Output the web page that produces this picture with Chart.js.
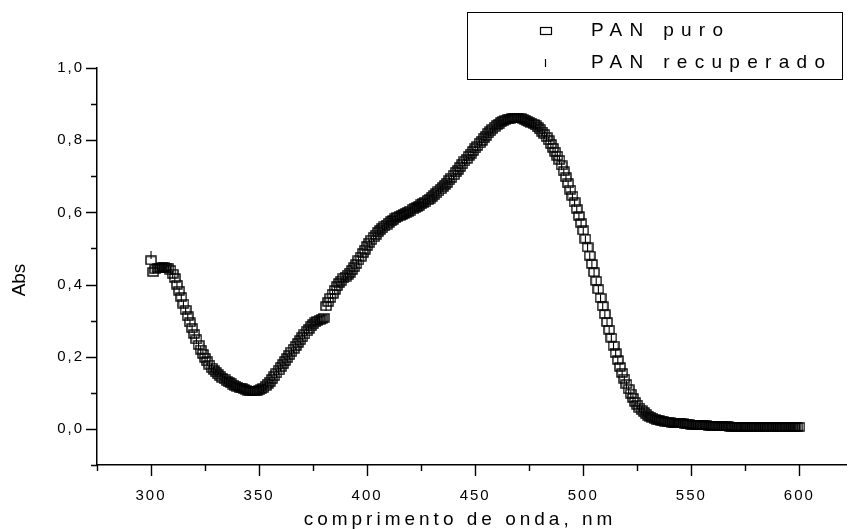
<!DOCTYPE html>
<html>
<head>
<meta charset="utf-8">
<script src="https://cdn.jsdelivr.net/npm/chart.js@4.4.0/dist/chart.umd.min.js"></script>
<style>
html,body{margin:0;padding:0;background:#fff;}
#wrap{position:relative;width:852px;height:529px;}
</style>
</head>
<body>
<div id="wrap"><canvas id="c" width="852" height="529"></canvas></div>
<script>
// ---------- data ----------
const wavelengths = [
300,301,302,303,304,305,306,307,308,309,
310,311,312,313,314,315,316,317,318,319,
320,321,322,323,324,325,326,327,328,329,
330,331,332,333,334,335,336,337,338,339,
340,341,342,343,344,345,346,347,348,349,
350,351,352,353,354,355,356,357,358,359,
360,361,362,363,364,365,366,367,368,369,
370,371,372,373,374,375,376,377,378,379,
380,381,382,383,384,385,386,387,388,389,
390,391,392,393,394,395,396,397,398,399,
400,401,402,403,404,405,406,407,408,409,
410,411,412,413,414,415,416,417,418,419,
420,421,422,423,424,425,426,427,428,429,
430,431,432,433,434,435,436,437,438,439,
440,441,442,443,444,445,446,447,448,449,
450,451,452,453,454,455,456,457,458,459,
460,461,462,463,464,465,466,467,468,469,
470,471,472,473,474,475,476,477,478,479,
480,481,482,483,484,485,486,487,488,489,
490,491,492,493,494,495,496,497,498,499,
500,501,502,503,504,505,506,507,508,509,
510,511,512,513,514,515,516,517,518,519,
520,521,522,523,524,525,526,527,528,529,
530,531,532,533,534,535,536,537,538,539,
540,541,542,543,544,545,546,547,548,549,
550,551,552,553,554,555,556,557,558,559,
560,561,562,563,564,565,566,567,568,569,
570,571,572,573,574,575,576,577,578,579,
580,581,582,583,584,585,586,587,588,589,
590,591,592,593,594,595,596,597,598,599,
600];

const absPuro = [
0.467,0.435,0.442,0.445,0.447,0.448,0.448,0.447,0.445,0.440,
0.430,0.418,0.400,0.383,0.365,0.347,0.330,0.312,0.295,0.279,
0.263,0.248,0.233,0.220,0.208,0.197,0.187,0.178,0.170,0.163,
0.157,0.151,0.146,0.141,0.137,0.133,0.129,0.126,0.123,0.120,
0.117,0.114,0.112,0.110,0.108,0.106,0.105,0.104,0.104,0.105,
0.107,0.110,0.114,0.119,0.125,0.131,0.138,0.146,0.154,0.162,
0.171,0.179,0.188,0.196,0.205,0.214,0.222,0.230,0.238,0.246,
0.254,0.262,0.270,0.277,0.284,0.290,0.295,0.299,0.302,0.305,
0.308,0.340,0.352,0.363,0.374,0.385,0.395,0.404,0.411,0.417,
0.422,0.427,0.433,0.440,0.448,0.457,0.467,0.477,0.487,0.497,
0.507,0.516,0.524,0.531,0.538,0.545,0.551,0.556,0.561,0.566,
0.571,0.575,0.579,0.583,0.587,0.590,0.593,0.596,0.599,0.602,
0.605,0.608,0.611,0.615,0.618,0.622,0.626,0.630,0.634,0.638,
0.643,0.648,0.653,0.658,0.664,0.670,0.676,0.682,0.689,0.696,
0.703,0.711,0.718,0.726,0.733,0.741,0.748,0.756,0.763,0.770,
0.777,0.784,0.791,0.798,0.805,0.812,0.819,0.825,0.831,0.837,
0.842,0.846,0.850,0.853,0.856,0.858,0.860,0.861,0.862,0.862,
0.862,0.861,0.859,0.857,0.854,0.851,0.848,0.845,0.841,0.836,
0.830,0.824,0.817,0.809,0.800,0.790,0.779,0.768,0.757,0.745,
0.730,0.714,0.697,0.680,0.663,0.646,0.628,0.610,0.590,0.570,
0.550,0.527,0.503,0.480,0.457,0.434,0.410,0.387,0.363,0.340,
0.318,0.296,0.275,0.253,0.231,0.210,0.191,0.172,0.155,0.139,
0.124,0.110,0.098,0.086,0.075,0.067,0.059,0.052,0.047,0.042,
0.037,0.034,0.031,0.028,0.026,0.024,0.023,0.021,0.020,0.019,
0.018,0.017,0.017,0.016,0.016,0.015,0.015,0.014,0.014,0.013,
0.012,0.012,0.011,0.011,0.011,0.010,0.010,0.010,0.009,0.009,
0.008,0.008,0.008,0.007,0.007,0.007,0.007,0.007,0.006,0.006,
0.006,0.006,0.006,0.006,0.006,0.006,0.005,0.005,0.006,0.005,
0.005,0.005,0.005,0.005,0.005,0.005,0.005,0.005,0.005,0.005,
0.005,0.005,0.005,0.005,0.005,0.006,0.005,0.005,0.005,0.005,
0.006];

const absRecuperado = [
0.482,0.440,0.446,0.448,0.449,0.450,0.449,0.447,0.444,0.438,
0.428,0.415,0.398,0.381,0.363,0.345,0.328,0.310,0.293,0.277,
0.261,0.246,0.232,0.219,0.207,0.196,0.186,0.177,0.169,0.162,
0.156,0.150,0.145,0.140,0.136,0.132,0.128,0.125,0.122,0.119,
0.116,0.113,0.111,0.109,0.107,0.105,0.104,0.103,0.103,0.104,
0.106,0.109,0.113,0.118,0.124,0.130,0.137,0.145,0.153,0.161,
0.170,0.178,0.187,0.195,0.204,0.213,0.221,0.229,0.237,0.245,
0.253,0.261,0.269,0.276,0.283,0.289,0.294,0.298,0.301,0.304,
0.307,0.338,0.350,0.361,0.372,0.383,0.393,0.402,0.409,0.415,
0.420,0.425,0.431,0.438,0.446,0.455,0.465,0.475,0.485,0.495,
0.505,0.514,0.522,0.529,0.536,0.543,0.549,0.554,0.559,0.564,
0.569,0.573,0.577,0.581,0.585,0.588,0.591,0.594,0.597,0.600,
0.603,0.606,0.609,0.613,0.616,0.620,0.624,0.628,0.632,0.636,
0.641,0.646,0.651,0.656,0.662,0.668,0.674,0.680,0.687,0.694,
0.701,0.709,0.716,0.724,0.731,0.739,0.746,0.754,0.761,0.768,
0.775,0.782,0.789,0.796,0.803,0.810,0.817,0.823,0.829,0.835,
0.840,0.844,0.848,0.851,0.854,0.856,0.858,0.859,0.860,0.860,
0.860,0.859,0.857,0.855,0.852,0.849,0.846,0.843,0.839,0.834,
0.828,0.822,0.815,0.807,0.798,0.788,0.777,0.766,0.755,0.743,
0.728,0.712,0.695,0.678,0.661,0.644,0.626,0.608,0.588,0.568,
0.548,0.525,0.501,0.478,0.455,0.432,0.408,0.385,0.361,0.338,
0.316,0.294,0.273,0.251,0.229,0.208,0.189,0.170,0.153,0.137,
0.122,0.108,0.096,0.084,0.074,0.066,0.058,0.051,0.046,0.041,
0.036,0.033,0.030,0.027,0.025,0.023,0.022,0.020,0.019,0.018,
0.017,0.016,0.016,0.015,0.015,0.014,0.014,0.013,0.013,0.012,
0.011,0.011,0.010,0.010,0.010,0.009,0.009,0.009,0.008,0.008,
0.007,0.007,0.007,0.006,0.006,0.006,0.006,0.006,0.005,0.005,
0.005,0.005,0.005,0.005,0.005,0.005,0.004,0.004,0.005,0.004,
0.004,0.004,0.004,0.004,0.004,0.004,0.004,0.004,0.004,0.004,
0.004,0.004,0.004,0.004,0.004,0.005,0.004,0.004,0.004,0.004,
0.005];

const seriesNames = ['PAN puro', 'PAN recuperado'];
const xMajorTicks = [300, 350, 400, 450, 500, 550, 600];
const xTickLabels = ['300', '350', '400', '450', '500', '550', '600'];
const yMajorTicks = [0.0, 0.2, 0.4, 0.6, 0.8, 1.0];
const yTickLabels = ['0,0', '0,2', '0,4', '0,6', '0,8', '1,0'];
const xTitle = 'comprimento de onda, nm';
const yTitle = 'Abs';

// ---------- styles ----------
const FONT = '"Liberation Sans", Arial, Helvetica, sans-serif';

function makeRectMarker(w, h, lw) {
  const c = document.createElement('canvas');
  c.width = w + 2; c.height = h + 2;
  const g = c.getContext('2d');
  g.strokeStyle = '#000';
  g.lineWidth = lw;
  g.strokeRect(1, 1, w, h);
  return c;
}
const puroMarker = makeRectMarker(10, 8, 1.4);

function lookup(vals, labels, v) {
  for (let i = 0; i < vals.length; i++) if (Math.abs(vals[i] - v) < 1e-6) return labels[i];
  return '';
}

const axisTicks = {
  id: 'axisTicks',
  beforeDraw(chart) { chart.ctx.letterSpacing = '2px'; },
  afterDraw(chart) {
    const ctx = chart.ctx, xs = chart.scales.x, ys = chart.scales.y;
    ctx.save();
    ctx.strokeStyle = '#000';
    ctx.lineWidth = 1.4;
    ctx.beginPath();
    xs.ticks.forEach(t => {
      const p = Math.round(xs.getPixelForValue(t.value)) + 0.5;
      const major = xMajorTicks.some(m => Math.abs(m - t.value) < 1e-6);
      const len = major ? 11 : 6;
      ctx.moveTo(p, xs.top); ctx.lineTo(p, xs.top + len);
    });
    ys.ticks.forEach(t => {
      const p = Math.round(ys.getPixelForValue(t.value)) + 0.5;
      const major = yMajorTicks.some(m => Math.abs(m - t.value) < 1e-6);
      const len = major ? 11 : 6;
      ctx.moveTo(ys.right, p); ctx.lineTo(ys.right - len, p);
    });
    ctx.stroke();

    // axis titles
    ctx.fillStyle = '#000';
    ctx.textAlign = 'center';
    ctx.textBaseline = 'middle';
    ctx.font = '19px ' + FONT;
    ctx.letterSpacing = '4px';
    ctx.fillText(xTitle, 460, 520);
    ctx.letterSpacing = '0px';
    ctx.save();
    ctx.translate(20, 280);
    ctx.rotate(-Math.PI / 2);
    ctx.fillText(yTitle, 0, 0);
    ctx.restore();

    // legend
    ctx.lineWidth = 1;
    ctx.strokeRect(467.5, 12.5, 375, 67);
    const rows = [31, 63];
    ctx.lineWidth = 1.2;
    ctx.strokeRect(540.5, 27.5, 11, 7);
    ctx.beginPath();
    ctx.moveTo(545.5, rows[1] - 4); ctx.lineTo(545.5, rows[1] + 4);
    ctx.stroke();
    ctx.textAlign = 'left';
    ctx.font = '19px ' + FONT;
    ctx.letterSpacing = '7.3px';
    ctx.fillText(seriesNames[0], 591, rows[0]);
    ctx.fillText(seriesNames[1], 591, rows[1]);
    ctx.restore();
  }
};

const ctx = document.getElementById('c').getContext('2d');
new Chart(ctx, {
  type: 'scatter',
  data: {
    datasets: [
      {
        label: seriesNames[0],
        data: wavelengths.map((w, i) => ({ x: w, y: absPuro[i] })),
        pointStyle: puroMarker,
        pointRadius: 4,
        borderColor: '#000',
        backgroundColor: 'rgba(0,0,0,0)',
        showLine: false,
        order: 2
      },
      {
        label: seriesNames[1],
        data: wavelengths.map((w, i) => ({ x: w, y: absRecuperado[i] })),
        pointStyle: 'line',
        rotation: 90,
        pointRadius: 4,
        borderWidth: 1.1,
        borderColor: '#000',
        backgroundColor: '#000',
        showLine: false,
        order: 1
      }
    ]
  },
  options: {
    responsive: false,
    animation: false,
    events: [],
    layout: { padding: { top: 68, right: 0, left: 0, bottom: 0 } },
    plugins: { legend: { display: false }, tooltip: { enabled: false } },
    scales: {
      x: {
        type: 'linear',
        min: 275, max: 622,
        grid: { display: false, drawTicks: false },
        border: { display: true, color: '#000', width: 1.5 },
        ticks: {
          stepSize: 25, includeBounds: false, autoSkip: false, maxRotation: 0,
          padding: 22, color: '#000', font: { family: FONT, size: 15 },
          callback: v => lookup(xMajorTicks, xTickLabels, v)
        },
        afterFit: s => { s.height = 64; }
      },
      y: {
        type: 'linear',
        min: -0.1, max: 1.0,
        grid: { display: false, drawTicks: false },
        border: { display: true, color: '#000', width: 1.5 },
        ticks: {
          stepSize: 0.1, includeBounds: false, autoSkip: false,
          padding: 13, color: '#000', font: { family: FONT, size: 15 },
          callback: v => lookup(yMajorTicks, yTickLabels, v)
        },
        afterFit: s => { s.width = 97; }
      }
    }
  },
  plugins: [axisTicks]
});
</script>
</body>
</html>
